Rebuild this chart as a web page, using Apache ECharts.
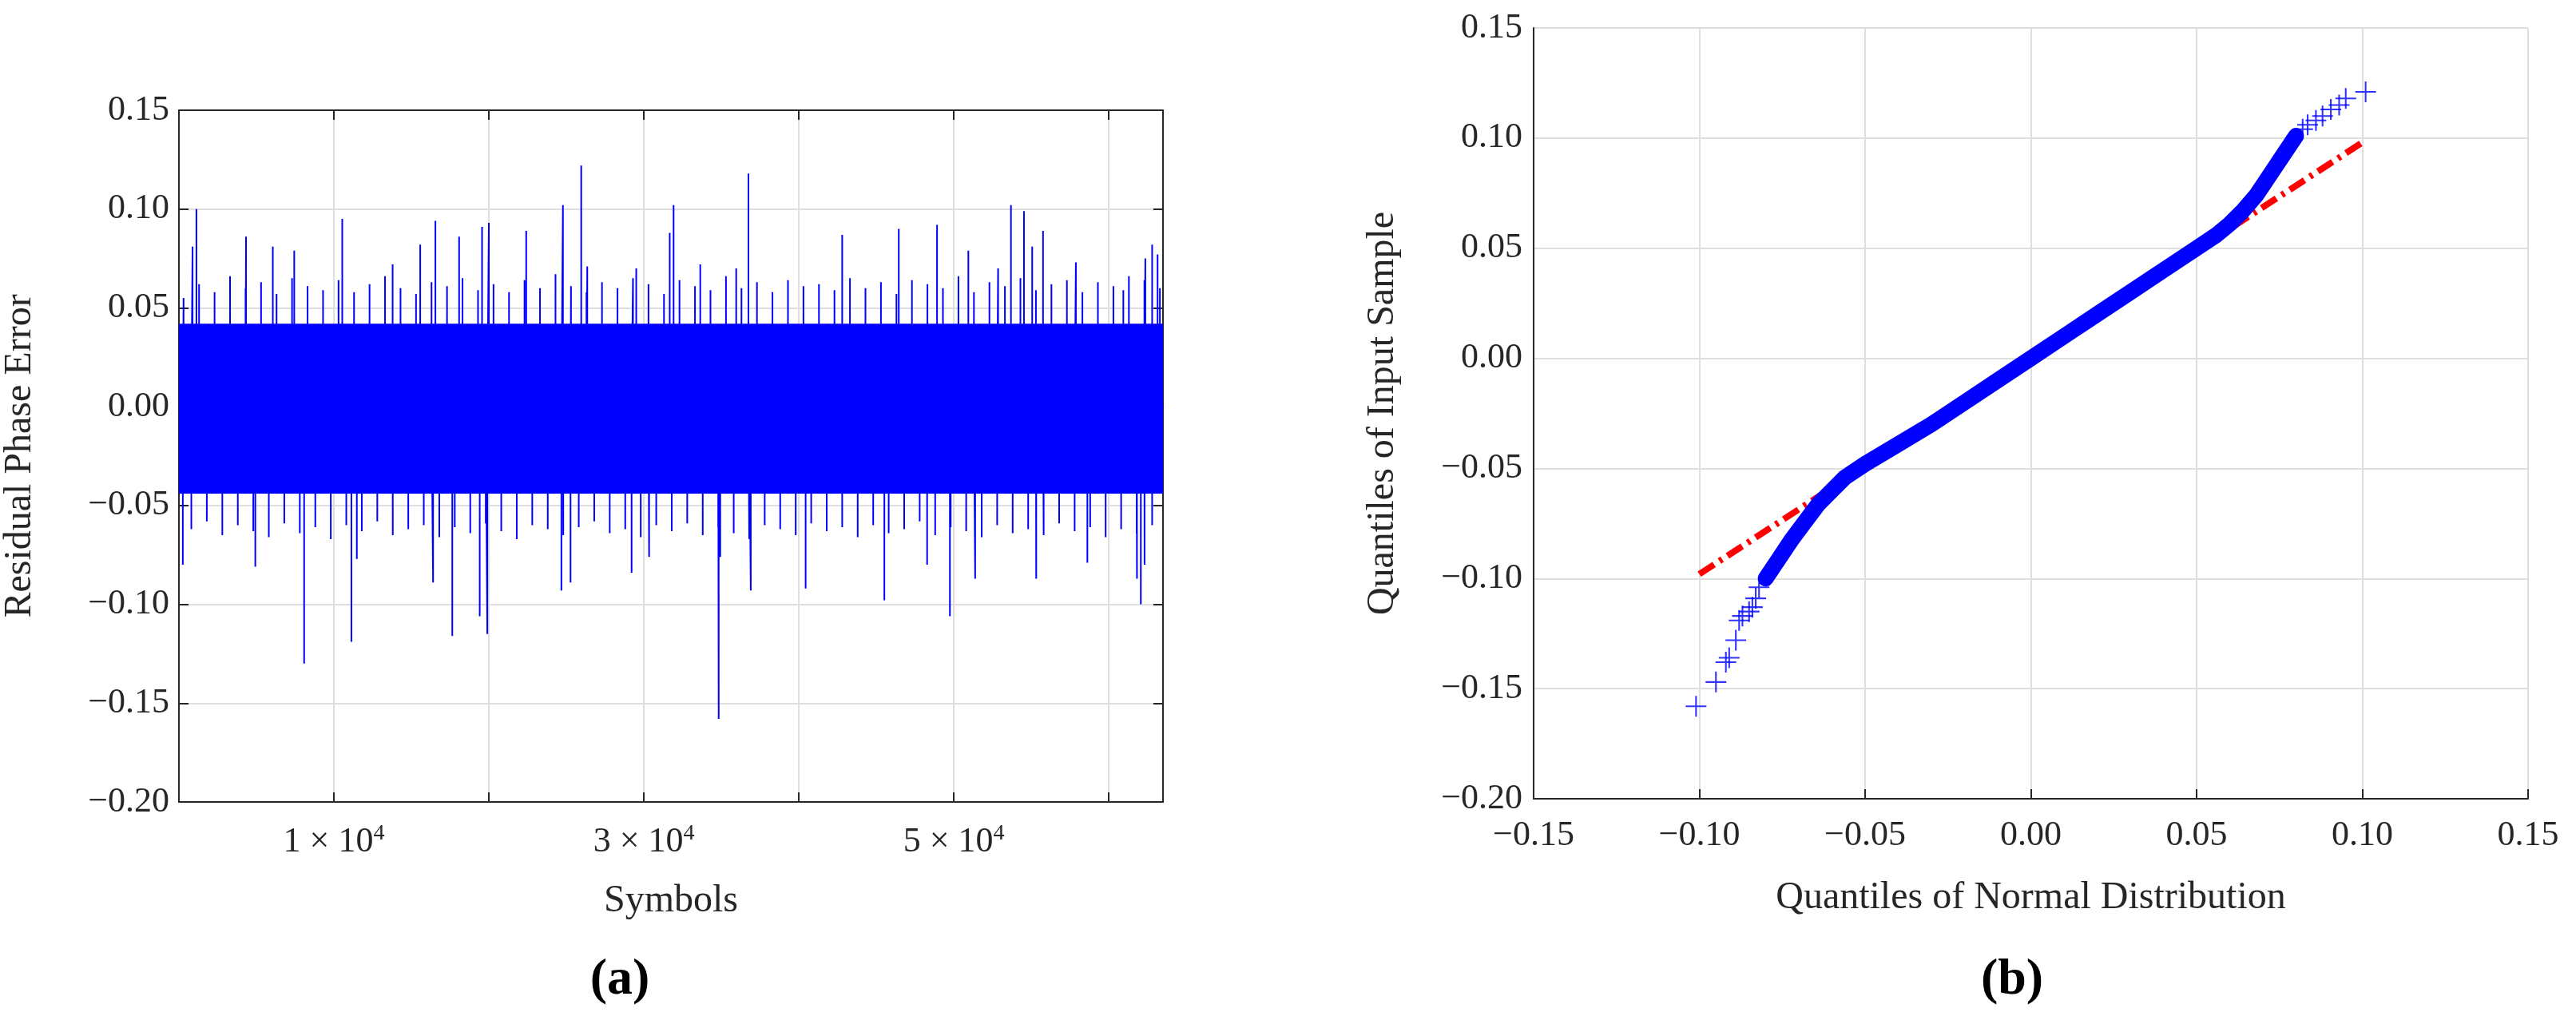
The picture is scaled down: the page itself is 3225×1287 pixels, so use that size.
<!DOCTYPE html>
<html><head><meta charset="utf-8">
<script src="https://cdn.jsdelivr.net/npm/echarts@6/dist/echarts.min.js"></script>
<style>html,body{margin:0;padding:0;background:#fff}#c{width:3225px;height:1287px}</style>
</head><body><div id="c"></div>
<script>
// ---- Data (a): residual phase error ----
const spikeUpX = [1130,880,4330,6060,7440,10540,13790,15570,16550,18080,19560,20000,22410,24780,25960,26350,29510,31920,31670,33640,35960,36750,42800,46450,48920,50940,52860,53690,54530,55060,55760,57880,60940,62360,62800,63150];
const spikeUpY = [0.100,0.081,0.086,0.081,0.079,0.095,0.072,0.082,0.094,0.086,0.091,0.093,0.089,0.102,0.122,0.071,0.070,0.102,0.088,0.072,0.070,0.118,0.087,0.090,0.092,0.079,0.070,0.102,0.099,0.081,0.089,0.073,0.059,0.075,0.082,0.077];
const spikeDnX = [250,4930,8080,11130,11480,16400,17640,19410,19900,24680,25270,29210,30340,34830,34930,36900,40440,45520,48280,49750,51380,55320,58620,61820,62070,62310];
const spikeDnY = [-0.080,-0.081,-0.130,-0.119,-0.077,-0.089,-0.116,-0.106,-0.115,-0.093,-0.089,-0.084,-0.076,-0.158,-0.076,-0.093,-0.092,-0.098,-0.080,-0.106,-0.087,-0.087,-0.079,-0.087,-0.100,-0.080];
const fringeUp = [0.055,0.062,0.058,0.066,0.060,0.063,0.057,0.065,0.061,0.059,0.064,0.058,0.062,0.066,0.060,0.057,0.063,0.061,0.065,0.059,0.062,0.058,0.064,0.060,0.067,0.061,0.058,0.063,0.060,0.065,0.062,0.057,0.064,0.061,0.059,0.066,0.060,0.063,0.058,0.064,0.061,0.062,0.059,0.065,0.060,0.063,0.057,0.064,0.062,0.060,0.066,0.058,0.063,0.061,0.065,0.059,0.062,0.064,0.058,0.063,0.061,0.066,0.064,0.060];
const fringeDn = [-0.062,-0.058,-0.065,-0.060,-0.063,-0.066,-0.059,-0.064,-0.061,-0.067,-0.060,-0.063,-0.058,-0.065,-0.062,-0.060,-0.066,-0.061,-0.064,-0.059,-0.063,-0.067,-0.060,-0.062,-0.065,-0.061,-0.058,-0.064,-0.062,-0.066,-0.060,-0.063,-0.059,-0.065,-0.061,-0.064,-0.067,-0.060,-0.062,-0.065,-0.059,-0.063,-0.061,-0.066,-0.060,-0.064,-0.062,-0.058,-0.065,-0.061,-0.063,-0.066,-0.060,-0.064,-0.062,-0.065,-0.059,-0.063,-0.061,-0.066,-0.062,-0.064,-0.060,-0.063];
const coreUpper = 0.042, coreLower = -0.044;
const xMaxA = 63500;
// ---- Data (b): QQ plot ----
const qqDenseX = [-0.080,-0.076,-0.072,-0.068,-0.064,-0.060,-0.056,-0.050,-0.040,-0.030,-0.020,-0.010,0.000,0.010,0.020,0.030,0.040,0.050,0.056,0.060,0.064,0.068,0.072,0.076,0.080];
const qqDenseY = [-0.100,-0.091,-0.082,-0.074,-0.066,-0.060,-0.054,-0.048,-0.039,-0.030,-0.020,-0.010,0.000,0.010,0.020,0.030,0.040,0.050,0.056,0.061,0.067,0.074,0.083,0.092,0.101];
const qqTailX = [-0.101,-0.095,-0.092,-0.091,-0.089,-0.088,-0.087,-0.085,-0.084,-0.083,-0.082,0.082,0.0835,0.086,0.088,0.0905,0.093,0.095,0.101];
const qqTailY = [-0.158,-0.147,-0.138,-0.136,-0.128,-0.119,-0.117,-0.115,-0.113,-0.109,-0.104,0.104,0.106,0.108,0.110,0.113,0.115,0.118,0.121];
const refLineX = [-0.1,0.1];
const refLineY = [-0.098,0.098];

const F = 'Liberation Serif';
const fmt = v => (v<0?'\u2212':'') + Math.abs(v).toFixed(2);
const spikes = [];
spikeUpX.forEach((x,i)=>{spikes.push([x,0],[x,spikeUpY[i]],[x,0]);});
spikeDnX.forEach((x,i)=>{spikes.push([x,0],[x,spikeDnY[i]],[x,0]);});
fringeUp.forEach((u,i)=>{const x=i*1000+300;spikes.push([x,0],[x,u],[x,0],[x+500,0],[x+500,fringeDn[i]],[x+500,0]);});
spikes.sort((a,b)=>a[0]-b[0]);
const ax = {fontFamily:F,fontSize:44,color:'#262626'};
const frame = {onZero:false,lineStyle:{color:'#262626',width:2}};
const tick = {inside:true,length:12,lineStyle:{color:'#262626',width:2}};
const grid = {show:true,lineStyle:{color:'#dfdfdf',width:2}};
const nameStyle = {fontFamily:F,fontSize:48,color:'#262626'};
const plus = 'path://M0,4.6h10v0.8h-10z M4.6,0h0.8v10h-0.8z';
const chart = echarts.init(document.getElementById('c'));
chart.setOption({
  animation:false,
  title:[
    {text:'(a)',left:771,top:1190,textAlign:'center',textStyle:{fontFamily:F,fontSize:64,fontWeight:'bold',color:'#000'}},
    {text:'(b)',left:2514,top:1190,textAlign:'center',textStyle:{fontFamily:F,fontSize:64,fontWeight:'bold',color:'#000'}}
  ],
  grid:[{left:220,top:138,width:1236,height:866},{left:1920,top:35,width:1245,height:965}],
  xAxis:[
    {gridIndex:0,type:'value',min:0,max:xMaxA,interval:10000,axisLine:frame,axisTick:tick,splitLine:grid,
     name:'Symbols',nameLocation:'middle',nameGap:100,nameTextStyle:nameStyle,
     axisLabel:{...ax,margin:26,showMaxLabel:false,formatter:v=>({10000:'1 × 10{s|4}',30000:'3 × 10{s|4}',50000:'5 × 10{s|4}'}[v]||''),rich:{s:{fontFamily:F,fontSize:28,verticalAlign:'top',padding:[0,0,20,0]}}}},
    {gridIndex:0,type:'value',position:'top',min:0,max:xMaxA,interval:10000,axisLine:frame,axisTick:tick,axisLabel:{show:false},splitLine:{show:false}},
    {gridIndex:1,type:'value',min:-0.15,max:0.15,interval:0.05,axisLine:frame,axisTick:tick,splitLine:grid,
     name:'Quantiles of Normal Distribution',nameLocation:'middle',nameGap:100,nameTextStyle:nameStyle,axisLabel:{...ax,margin:24,formatter:fmt}},
    {gridIndex:1,type:'value',position:'top',min:-0.15,max:0.15,interval:0.05,axisLine:{show:false},axisTick:{show:false},axisLabel:{show:false},splitLine:{show:false}}
  ],
  yAxis:[
    {gridIndex:0,type:'value',min:-0.2,max:0.15,interval:0.05,axisLine:frame,axisTick:tick,splitLine:grid,
     name:'Residual Phase Error',nameLocation:'middle',nameGap:175,nameTextStyle:nameStyle,axisLabel:{...ax,margin:12,formatter:fmt}},
    {gridIndex:0,type:'value',position:'right',min:-0.2,max:0.15,interval:0.05,axisLine:frame,axisTick:tick,axisLabel:{show:false},splitLine:{show:false}},
    {gridIndex:1,type:'value',min:-0.2,max:0.15,interval:0.05,axisLine:frame,axisTick:{show:false},splitLine:grid,
     name:'Quantiles of Input Sample',nameLocation:'middle',nameGap:165,nameTextStyle:nameStyle,axisLabel:{...ax,margin:14,formatter:fmt}},
    {gridIndex:1,type:'value',position:'right',min:-0.2,max:0.15,interval:0.05,axisLine:{show:false},axisTick:{show:false},axisLabel:{show:false},splitLine:{show:false}}
  ],
  series:[
    {type:'line',xAxisIndex:0,yAxisIndex:0,data:spikes,symbol:'none',lineStyle:{color:'#0000ff',width:2},
     markArea:{silent:true,itemStyle:{color:'#0000ff',opacity:1},data:[[{xAxis:0,yAxis:coreLower},{xAxis:xMaxA,yAxis:coreUpper}]]}},
    {type:'line',xAxisIndex:2,yAxisIndex:2,data:qqDenseX.map((x,i)=>[x,qqDenseY[i]]),symbol:'none',lineStyle:{color:'#0000ff',width:20,cap:'round',join:'round'}},
    {type:'scatter',xAxisIndex:2,yAxisIndex:2,data:qqTailX.map((x,i)=>[x,qqTailY[i]]),symbol:plus,symbolSize:26,itemStyle:{color:'#0000ff'}},
    {type:'line',xAxisIndex:2,yAxisIndex:2,data:refLineX.map((x,i)=>[x,refLineY[i]]),symbol:'none',z:1,lineStyle:{color:'#ff0000',width:8,type:[22,8,4,8]}}
  ]
});
</script></body></html>
